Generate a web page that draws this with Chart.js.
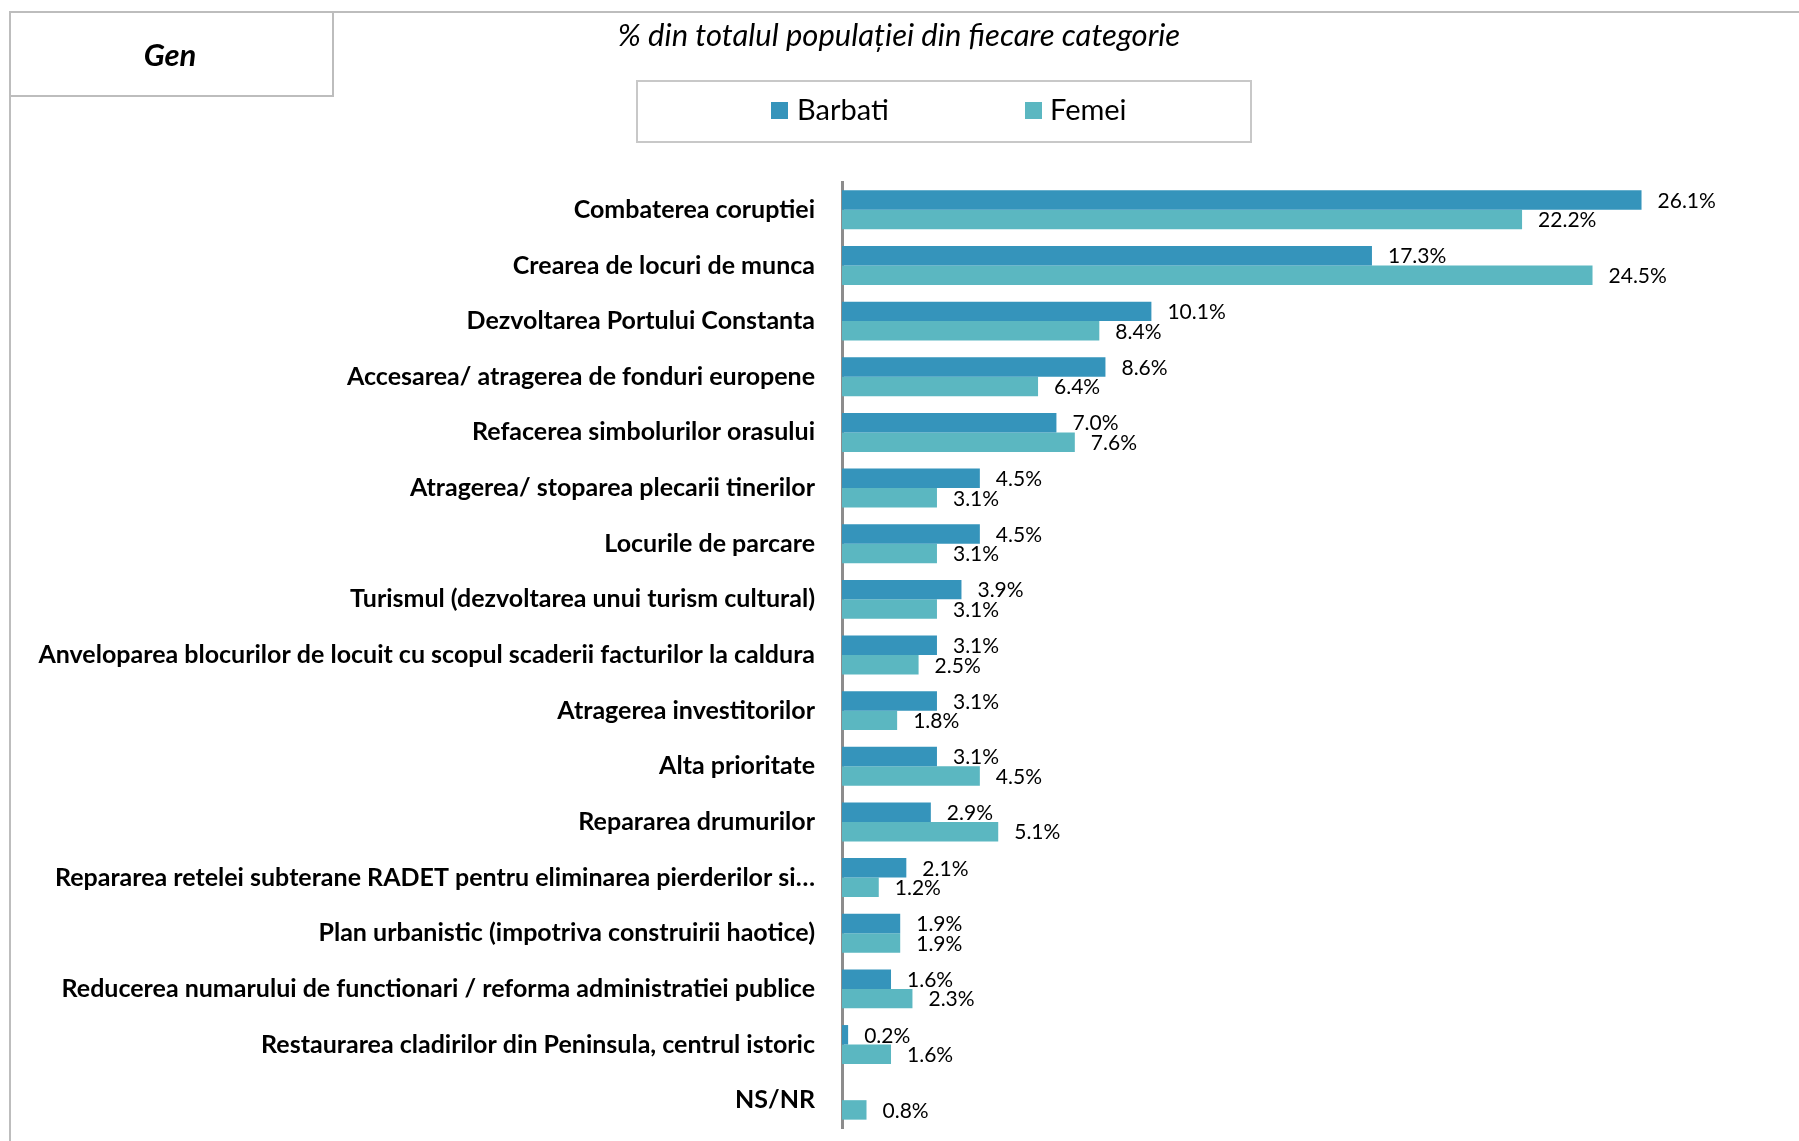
<!DOCTYPE html>
<html>
<head>
<meta charset="utf-8">
<script src="https://cdn.jsdelivr.net/npm/chart.js@4"></script>
<style>
  html, body { margin: 0; padding: 0; background: #fff; overflow: hidden; }
  canvas { display: block; }
</style>
</head>
<body>
<canvas id="genChart" width="1799" height="1141"></canvas>
<script>
// date
const categories = [
    'Combaterea coruptiei',
    'Crearea de locuri de munca',
    'Dezvoltarea Portului Constanta',
    'Accesarea/ atragerea de fonduri europene',
    'Refacerea simbolurilor orasului',
    'Atragerea/ stoparea plecarii tinerilor',
    'Locurile de parcare',
    'Turismul (dezvoltarea unui turism cultural)',
    'Anveloparea blocurilor de locuit cu scopul scaderii facturilor la caldura',
    'Atragerea investitorilor',
    'Alta prioritate',
    'Repararea drumurilor',
    'Repararea retelei subterane RADET pentru eliminarea pierderilor si…',
    'Plan urbanistic (impotriva construirii haotice)',
    'Reducerea numarului de functionari / reforma administratiei publice',
    'Restaurarea cladirilor din Peninsula, centrul istoric',
    'NS/NR'
];
const barbati = [26.1, 17.3, 10.1, 8.6, 7.0, 4.5, 4.5, 3.9, 3.1, 3.1, 3.1, 2.9, 2.1, 1.9, 1.6, 0.2, null];
const femei = [22.2, 24.5, 8.4, 6.4, 7.6, 3.1, 3.1, 3.1, 2.5, 1.8, 4.5, 5.1, 1.2, 1.9, 2.3, 1.6, 0.8];
const seriesNames = ['Barbati', 'Femei'];
const titleText = '% din totalul populației din fiecare categorie';
const cornerText = 'Gen';

const colBarbati = '#3594bb';
const colFemei = '#5bb7c1';

// rama, titlu, caseta "Gen" si legenda
const framePlugin = {
    id: 'frame',
    beforeDraw(chart) {
        const c = chart.ctx;
        c.save();
        c.strokeStyle = '#bdbdbd';
        c.lineWidth = 2;
        c.beginPath();
        c.moveTo(10, 1141);
        c.lineTo(10, 12);
        c.lineTo(1799, 12);
        c.stroke();
        c.strokeRect(10, 12, 323, 84);
        c.fillStyle = '#000';
        c.font = 'italic bold 31px Lato';
        c.textAlign = 'center';
        c.textBaseline = 'middle';
        c.fillText(cornerText, 170, 56);

        c.font = 'italic 31px Lato';
        c.fillText(titleText, 899, 36);

        // legenda
        c.strokeStyle = '#c8c8c8';
        c.strokeRect(637, 81, 614, 61);
        const items = [[771, 797], [1025, 1050]];
        chart.data.datasets.forEach((ds, i) => {
            c.fillStyle = ds.backgroundColor;
            c.fillRect(items[i][0], 102, 17, 17);
            c.fillStyle = '#000';
            c.font = '29px Lato';
            c.textAlign = 'left';
            c.fillText(ds.label, items[i][1], 111);
        });
        c.restore();
    }
};

// etichete cu valori
const valuePlugin = {
    id: 'values',
    afterDatasetsDraw(chart) {
        const c = chart.ctx;
        c.save();
        c.fillStyle = '#000';
        c.font = '21px Lato';
        c.textAlign = 'left';
        c.textBaseline = 'middle';
        chart.data.datasets.forEach((ds, i) => {
            chart.getDatasetMeta(i).data.forEach((bar, j) => {
                const v = ds.data[j];
                if (v === null) return;
                c.fillText(v.toFixed(1) + '%', bar.x + 16, bar.y + 1);
            });
        });
        c.restore();
    }
};

const ctx = document.getElementById('genChart').getContext('2d');
const genChart = new Chart(ctx, {
    type: 'bar',
    data: {
        labels: categories,
        datasets: [
            { label: seriesNames[0], data: barbati, backgroundColor: colBarbati },
            { label: seriesNames[1], data: femei, backgroundColor: colFemei }
        ]
    },
    options: {
        indexAxis: 'y',
        responsive: false,
        animation: false,
        categoryPercentage: 0.7,
        barPercentage: 1.0,
        layout: { padding: { left: 0, right: 38, top: 182, bottom: 13 } },
        scales: {
            x: {
                display: false,
                min: 0,
                max: 30
            },
            y: {
                grid: { display: false },
                border: { display: true, color: '#8c8c8c', width: 3 },
                ticks: {
                    color: '#000',
                    font: { family: 'Lato', weight: 'bold', size: 25 },
                    padding: 19
                },
                afterFit(scale) {
                    scale.width = 842;
                    scale.paddingTop = 0;
                    scale.paddingBottom = 0;
                }
            }
        },
        plugins: {
            legend: { display: false },
            tooltip: { enabled: false },
            title: { display: false }
        }
    },
    plugins: [framePlugin, valuePlugin]
});
</script>
</body>
</html>
